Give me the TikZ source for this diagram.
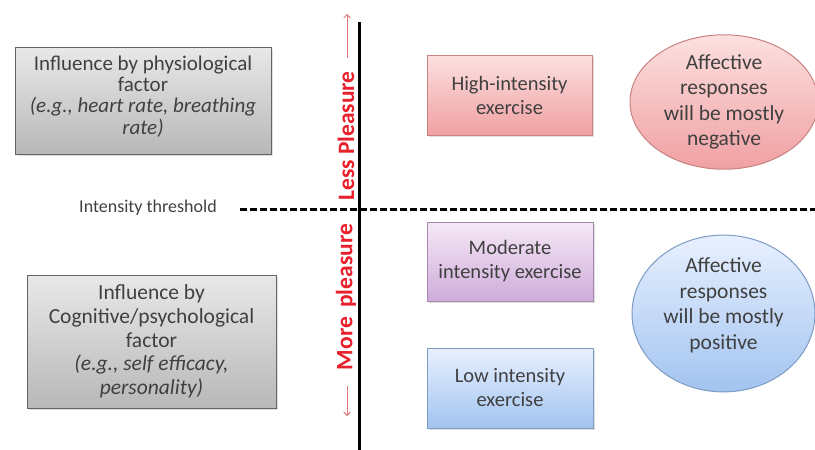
\documentclass[tikz,border=0pt]{standalone}
\usepackage{fontspec}
\setmainfont{Carlito}
\usetikzlibrary{positioning, shapes.geometric, arrows.meta, shadows}

\definecolor{inkGray}{RGB}{64,64,64}
\definecolor{axisRed}{RGB}{232,32,44}
\definecolor{arrowRed}{RGB}{222,120,124}

\begin{document}
\begin{tikzpicture}[
    x=1pt, y=-1pt,
    font=\fontsize{21}{21.3}\selectfont,
    >=Straight Barb,
    % Color Palette
    grayColor/.style={draw={rgb,255:red,100;green,100;blue,100}, top color={rgb,255:red,232;green,232;blue,232}, bottom color={rgb,255:red,184;green,184;blue,184}},
    pinkColor/.style={draw={rgb,255:red,200;green,130;blue,130}, top color={rgb,255:red,252;green,224;blue,224}, bottom color={rgb,255:red,240;green,160;blue,162}},
    purpleColor/.style={draw={rgb,255:red,165;green,135;blue,175}, top color={rgb,255:red,246;green,232;blue,246}, bottom color={rgb,255:red,206;green,172;blue,218}},
    blueColor/.style={draw={rgb,255:red,125;green,155;blue,195}, top color={rgb,255:red,232;green,240;blue,255}, bottom color={rgb,255:red,162;green,196;blue,240}},
    % Node Styles
    box/.style={rectangle, line width=1pt, align=center, text=inkGray, inner sep=0pt,
        drop shadow={shadow xshift=1.5pt, shadow yshift=-1.5pt, opacity=0.25}},
    bubble/.style={ellipse, line width=1pt, align=center, text=inkGray, inner sep=0pt,
        font=\fontsize{21.5}{25.5}\selectfont},
    axislabel/.style={rotate=90, text=axisRed, font=\fontsize{23.5}{24}\selectfont\bfseries},
    axisarrow/.style={->, arrowRed, line width=0.9pt},
    threshold/.style={line width=3pt, dash pattern=on 7pt off 3pt}
]
\useasboundingbox (0,0) rectangle (815,450);

% =========================================================
% LEFT COLUMN: influencing factors
% =========================================================
\node[box, grayColor, minimum width=256pt, minimum height=107pt] (physBox) at (143, 100.5) {
    Influence by physiological\\
    factor\\
    \itshape (e.g., heart rate, breathing\\
    \itshape rate)\\[-10pt]
};

\node[box, grayColor, minimum width=249pt, minimum height=133pt,
    font=\fontsize{21.5}{23.7}\selectfont] (cogBox) at (151.5, 341.5) {
    Influence by\\
    Cognitive/psychological\\
    factor\\
    \itshape (e.g., self efficacy,\\
    \itshape personality)
};

\node[text=inkGray, font=\fontsize{18}{20}\selectfont] (thresh) at (148, 208) {Intensity threshold};

% =========================================================
% AXES
% =========================================================
\coordinate (threshEnd) at (815, 209);
\coordinate (axisTop) at (359, 22);
\coordinate (axisBot) at (359, 452);

\draw[threshold] ([xshift=20pt, yshift=-1pt]thresh.east) -- (threshEnd);
\draw[line width=3pt] (axisTop) -- (axisBot);

\node[axislabel] (lessTxt) at (346, 136) {Less Pleasure};
\node[axislabel] (moreTxt) at (346, 297) {More\, pleasure};

\coordinate (lessTip) at (347, 14);
\coordinate (moreTip) at (347, 416);
\draw[axisarrow] ([xshift=1pt, yshift=10pt]lessTxt.east) -- (lessTip);
\draw[axisarrow] ([xshift=1pt, yshift=-12pt]moreTxt.west) -- (moreTip);

% =========================================================
% RIGHT COLUMN: exercise intensity
% =========================================================
\node[box, pinkColor, minimum width=165pt, minimum height=80pt,
    font=\fontsize{20.5}{24}\selectfont] (highBox) at (509.5, 95) {High-intensity\\exercise};
\node[box, purpleColor, minimum width=166pt, minimum height=79pt,
    font=\fontsize{20.5}{24}\selectfont] (modBox) at (510, 261.5) {Moderate\\intensity exercise};
\node[box, blueColor, minimum width=166pt, minimum height=80pt,
    font=\fontsize{20.5}{24}\selectfont] (lowBox) at (510, 388) {Low intensity\\exercise};

% Affective responses
\node[bubble, pinkColor, minimum width=188pt, minimum height=100pt] (negBubble) at (724, 102) {
    Affective\\responses\\will be mostly\\negative
};
\node[bubble, blueColor, minimum width=183pt, minimum height=97pt] (posBubble) at (723.5, 313.5) {
    Affective\\responses\\will be mostly\\positive\\[-6pt]
};

\end{tikzpicture}
\end{document}
